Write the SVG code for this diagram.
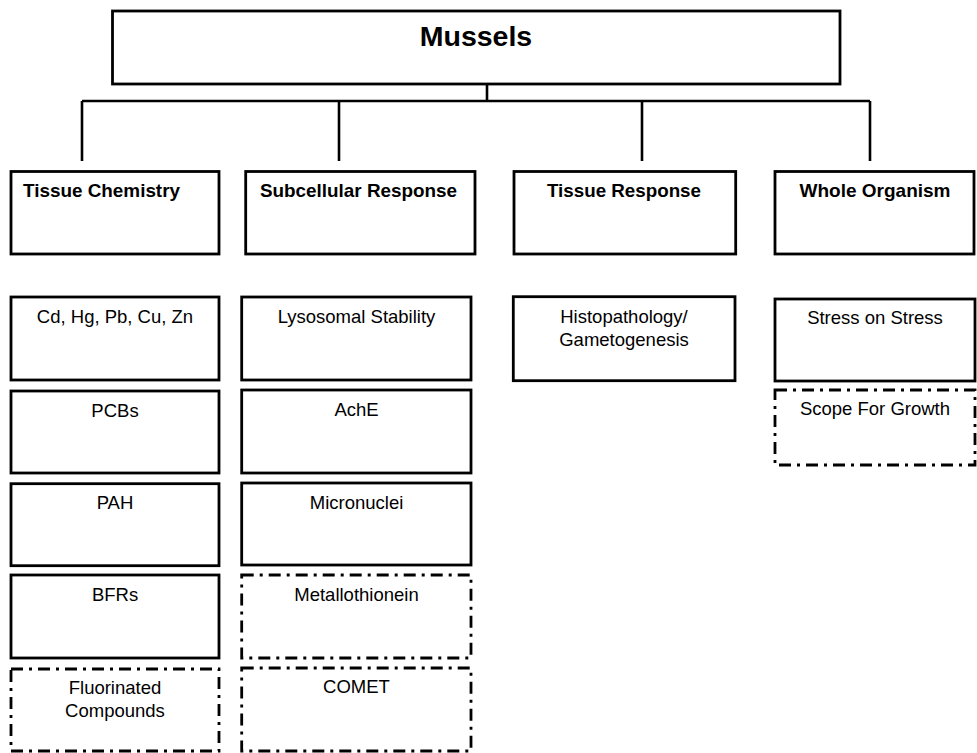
<svg xmlns="http://www.w3.org/2000/svg" width="977" height="753" viewBox="0 0 977 753">
<style>
.box{fill:#fff;stroke:#000;stroke-width:2.8}
.dbox{fill:#fff;stroke:#000;stroke-width:2.8;stroke-dasharray:12 6 3 6}
.con{stroke:#000;stroke-width:2.6;fill:none}
text{font-family:"Liberation Sans",Arial,sans-serif;fill:#000}
.t{font-size:18.5px;text-anchor:middle}
.h{font-size:18.5px;font-weight:bold}
.hm{font-size:18.5px;font-weight:bold;text-anchor:middle}
</style>
<rect width="977" height="753" fill="#fff"/>
<g id="connectors">
<line class="con" x1="487" y1="84" x2="487" y2="101"/>
<line class="con" x1="82" y1="101" x2="870" y2="101"/>
<line class="con" x1="82" y1="101" x2="82" y2="161"/>
<line class="con" x1="339" y1="101" x2="339" y2="161"/>
<line class="con" x1="642" y1="101" x2="642" y2="161"/>
<line class="con" x1="870" y1="101" x2="870" y2="161"/>
</g>
<g id="mussels">
<rect class="box" x="112.5" y="11" width="727.5" height="73"/>
<text x="476" y="46" style="font-size:28.5px;font-weight:bold;text-anchor:middle">Mussels</text>
</g>
<g id="tissue-chemistry">
<rect class="box" x="11" y="171.5" width="208" height="82.5"/>
<text class="h" x="23" y="196.7" textLength="157" lengthAdjust="spacingAndGlyphs">Tissue Chemistry</text>
</g>
<g id="subcellular-response">
<rect class="box" x="245.7" y="171.5" width="229.3" height="82.5"/>
<text class="hm" x="358.5" y="196.7" textLength="197" lengthAdjust="spacingAndGlyphs">Subcellular Response</text>
</g>
<g id="tissue-response">
<rect class="box" x="514" y="171.5" width="221.7" height="82.5"/>
<text class="hm" x="624" y="196.7" textLength="154" lengthAdjust="spacingAndGlyphs">Tissue Response</text>
</g>
<g id="whole-organism">
<rect class="box" x="775" y="171.5" width="199" height="82.5"/>
<text class="hm" x="875" y="196.7" textLength="151" lengthAdjust="spacingAndGlyphs">Whole Organism</text>
</g>
<g id="metals">
<rect class="box" x="11" y="297" width="208" height="83"/>
<text class="t" x="115" y="322.7">Cd, Hg, Pb, Cu, Zn</text>
</g>
<g id="pcbs">
<rect class="box" x="11" y="391" width="208" height="82"/>
<text class="t" x="115" y="416.7">PCBs</text>
</g>
<g id="pah">
<rect class="box" x="11" y="483.7" width="208" height="82"/>
<text class="t" x="115" y="509.3">PAH</text>
</g>
<g id="bfrs">
<rect class="box" x="11" y="575" width="208" height="83"/>
<text class="t" x="115" y="601">BFRs</text>
</g>
<g id="fluorinated">
<rect class="dbox" x="11" y="669" width="208" height="82"/>
<text class="t" x="115" y="694.3">Fluorinated</text>
<text class="t" x="115" y="717.3">Compounds</text>
</g>
<g id="lysosomal">
<rect class="box" x="241.7" y="297" width="229.3" height="83"/>
<text class="t" x="356.5" y="322.7">Lysosomal Stability</text>
</g>
<g id="ache">
<rect class="box" x="241.7" y="390" width="229.3" height="83"/>
<text class="t" x="356.5" y="416.2">AchE</text>
</g>
<g id="micronuclei">
<rect class="box" x="241.7" y="483" width="229.3" height="82"/>
<text class="t" x="356.5" y="509">Micronuclei</text>
</g>
<g id="metallothionein">
<rect class="dbox" x="241.7" y="575" width="229.3" height="83"/>
<text class="t" x="356.5" y="601">Metallothionein</text>
</g>
<g id="comet">
<rect class="dbox" x="241.7" y="668" width="229.3" height="83"/>
<text class="t" x="356.5" y="693.3">COMET</text>
</g>
<g id="histopathology">
<rect class="box" x="513.3" y="296.7" width="221.7" height="84"/>
<text class="t" x="624" y="323.3">Histopathology/</text>
<text class="t" x="624" y="346">Gametogenesis</text>
</g>
<g id="stress-on-stress">
<rect class="box" x="775" y="299" width="200" height="82"/>
<text class="t" x="875" y="324.3">Stress on Stress</text>
</g>
<g id="scope-for-growth">
<rect class="dbox" x="775" y="390" width="200" height="75"/>
<text class="t" x="875" y="415.3">Scope For Growth</text>
</g>
</svg>
